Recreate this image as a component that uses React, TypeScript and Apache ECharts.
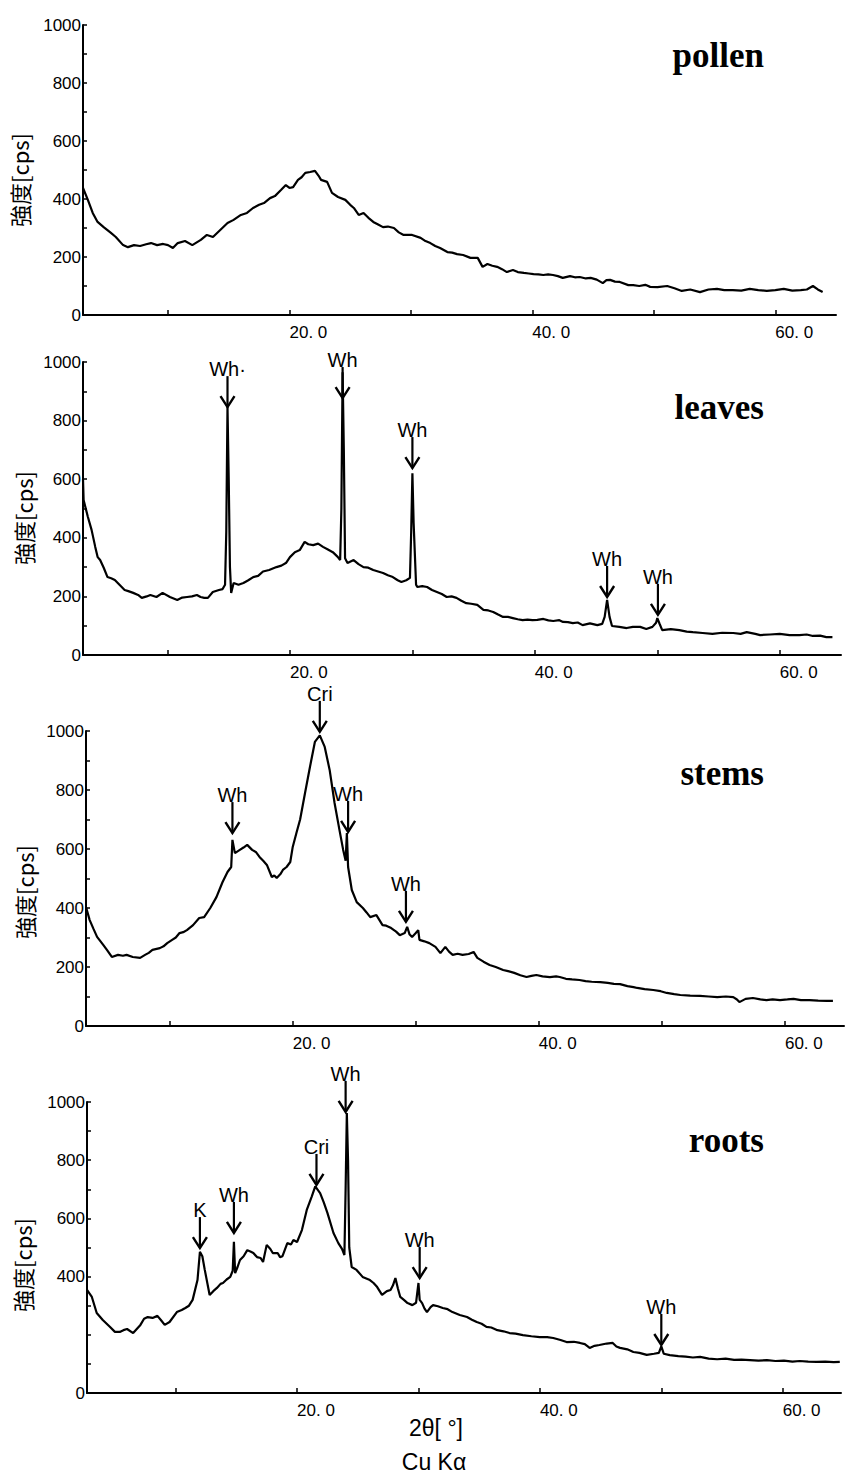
import React, { useEffect, useRef } from 'react';
import * as echarts from 'echarts';

// 2θ [deg], intensity [cps]
const pollen: [number, number][] = [
  [3.0,438],[3.4,397],[3.8,352],[4.2,321],[4.7,303],[5.3,283],[5.7,269],[6.3,241],[6.7,234],[7.2,241],[7.7,238],[8.2,244],[8.6,248],[9.1,241],[9.6,245],[10.0,241],[10.4,231],[10.8,248],[11.4,255],[12.0,241],[12.7,259],[13.2,276],[13.7,269],[14.3,293],[14.9,317],[15.4,328],[16.0,345],[16.5,352],[17.0,369],[17.5,380],[17.9,386],[18.4,403],[18.8,410],[19.3,431],[19.7,448],[20.0,438],[20.3,441],[20.7,466],[21.0,475],[21.3,490],[21.7,493],[22.1,497],[22.4,480],[22.6,466],[23.1,459],[23.5,421],[24.0,407],[24.6,397],[25.0,380],[25.3,369],[25.7,345],[26.1,352],[26.5,335],[26.9,321],[27.3,312],[27.7,303],[28.1,305],[28.6,300],[29.0,285],[29.4,276],[30.1,276],[30.8,266],[31.2,255],[31.6,248],[32.0,238],[32.4,231],[33.0,217],[33.4,215],[33.8,210],[34.3,207],[34.9,197],[35.5,197],[35.9,166],[36.3,176],[36.7,170],[37.1,166],[37.5,158],[37.9,148],[38.4,155],[38.8,148],[39.3,145],[39.7,143],[40.1,141],[40.5,140],[40.9,138],[41.3,140],[41.7,138],[42.1,134],[42.5,128],[43.1,134],[43.5,130],[43.9,131],[44.4,126],[44.8,128],[45.3,122],[45.8,110],[46.1,120],[46.4,121],[46.8,115],[47.2,114],[47.9,103],[48.3,103],[48.8,100],[49.3,104],[49.7,97],[50.3,96],[51.1,100],[51.7,92],[52.3,83],[53.0,88],[53.8,79],[54.5,88],[55.2,90],[55.8,86],[56.5,86],[57.2,84],[57.9,90],[58.6,86],[59.3,83],[60.0,86],[60.7,90],[61.4,84],[62.1,86],[62.6,88],[63.1,100],[63.5,88],[63.9,79]
];

const leaves: [number, number][] = [
  [3.1,600],[3.15,529],[3.5,471],[3.8,427],[4.1,369],[4.3,334],[4.5,324],[4.8,297],[5.1,266],[5.4,262],[5.7,256],[6.1,239],[6.5,222],[6.8,218],[7.2,212],[7.6,205],[7.9,195],[8.3,200],[8.6,205],[9.1,198],[9.6,212],[10.2,198],[10.8,188],[11.2,196],[11.6,198],[12.0,200],[12.4,205],[12.7,198],[13.0,195],[13.3,195],[13.7,215],[14.2,222],[14.5,225],[14.7,240],[14.8,420],[14.9,846],[15.0,600],[15.1,300],[15.2,212],[15.4,246],[15.8,240],[16.2,246],[16.6,255],[17.0,266],[17.4,270],[17.8,285],[18.3,290],[18.9,300],[19.3,305],[19.7,315],[20.0,334],[20.4,351],[20.8,358],[21.2,386],[21.5,378],[21.9,375],[22.3,380],[22.7,369],[23.1,360],[23.5,351],[23.9,335],[24.1,324],[24.2,500],[24.3,965],[24.4,700],[24.5,330],[24.7,314],[25.2,324],[25.6,310],[26.0,300],[26.4,298],[26.8,290],[27.2,285],[27.6,280],[28.0,272],[28.4,266],[28.8,255],[29.1,249],[29.5,255],[29.8,263],[29.9,420],[30.0,620],[30.1,450],[30.3,240],[30.4,232],[30.8,235],[31.2,232],[31.6,222],[32.0,215],[32.4,208],[32.8,198],[33.2,200],[33.6,195],[34.0,185],[34.4,177],[34.8,175],[35.3,171],[35.8,154],[36.2,152],[36.6,147],[37.0,138],[37.4,130],[37.8,130],[38.2,126],[38.6,122],[39.0,119],[39.4,121],[39.8,119],[40.2,120],[40.7,123],[41.1,118],[41.5,116],[42.0,119],[42.3,113],[42.7,112],[43.1,109],[43.5,111],[43.9,102],[44.5,108],[45.1,102],[45.5,106],[45.7,130],[45.9,188],[46.1,130],[46.3,99],[46.9,96],[47.5,92],[48.0,96],[48.6,96],[49.1,89],[49.6,96],[49.9,110],[50.0,126],[50.2,105],[50.4,85],[51.1,88],[51.8,85],[52.4,80],[52.9,78],[53.7,75],[54.5,72],[55.3,76],[56.2,75],[56.8,72],[57.3,78],[58.0,72],[58.4,68],[59.2,70],[60.0,72],[60.8,68],[61.6,68],[62.2,70],[62.7,65],[63.3,66],[63.8,61],[64.3,61]
];

const stems: [number, number][] = [
  [3.2,403],[3.5,359],[3.8,330],[4.1,302],[4.6,275],[4.9,258],[5.3,234],[5.8,241],[6.2,238],[6.5,241],[7.0,234],[7.6,231],[8.0,241],[8.3,248],[8.6,258],[9.2,264],[9.5,270],[9.8,281],[10.2,292],[10.5,300],[10.8,315],[11.1,318],[11.4,325],[11.9,342],[12.4,366],[12.8,369],[13.3,400],[13.8,437],[14.3,488],[14.7,522],[15.0,539],[15.1,631],[15.3,586],[15.7,597],[16.0,605],[16.3,614],[16.7,597],[17.0,590],[17.3,573],[17.6,560],[17.9,546],[18.3,505],[18.5,510],[18.7,502],[19.0,515],[19.2,529],[19.5,539],[19.8,556],[20.0,607],[20.3,654],[20.6,700],[21.0,790],[21.4,878],[21.8,963],[22.2,985],[22.6,946],[23.0,868],[23.4,756],[23.8,664],[24.1,597],[24.3,560],[24.4,654],[24.5,539],[24.8,461],[25.2,420],[25.7,400],[26.0,385],[26.3,369],[26.8,376],[27.3,342],[27.6,340],[28.0,332],[28.4,320],[28.7,308],[29.1,315],[29.3,336],[29.5,310],[29.7,302],[30.0,315],[30.2,325],[30.3,292],[30.7,287],[31.1,281],[31.6,268],[32.0,247],[32.4,268],[32.7,252],[33.0,241],[33.4,245],[33.8,241],[34.3,244],[34.7,251],[35.0,231],[35.5,218],[36.0,207],[36.5,200],[37.1,190],[37.5,186],[38.0,180],[38.5,172],[39.0,166],[39.4,170],[39.8,173],[40.3,168],[40.9,166],[41.4,168],[41.7,166],[42.2,160],[42.7,158],[43.3,156],[43.8,152],[44.3,150],[45.0,149],[45.6,146],[46.1,143],[46.6,142],[47.2,135],[47.7,132],[48.0,129],[48.6,125],[49.3,122],[49.9,118],[50.4,112],[51.0,108],[51.5,105],[52.3,103],[53.1,102],[53.8,100],[54.5,98],[55.2,100],[55.8,98],[56.1,90],[56.3,81],[56.8,92],[57.4,95],[58.0,90],[58.5,88],[59.0,90],[59.6,88],[60.2,90],[60.7,92],[61.3,88],[62.0,88],[62.7,86],[63.4,85],[63.9,85]
];

const roots: [number, number][] = [
  [2.7,354],[3.1,330],[3.5,275],[4.0,251],[4.6,227],[5.0,210],[5.4,210],[5.7,216],[6.0,220],[6.5,206],[6.8,220],[7.1,234],[7.4,255],[7.7,261],[8.1,258],[8.5,265],[8.8,250],[9.1,234],[9.5,244],[10.1,278],[10.5,285],[10.8,292],[11.1,300],[11.4,320],[11.8,388],[12.0,485],[12.2,470],[12.4,423],[12.8,337],[13.1,350],[13.4,361],[13.7,375],[13.9,378],[14.2,390],[14.5,399],[14.7,420],[14.8,520],[14.9,412],[15.1,433],[15.3,457],[15.6,470],[15.9,491],[16.2,485],[16.4,481],[16.7,467],[17.0,464],[17.2,450],[17.5,509],[17.8,495],[18.0,481],[18.4,481],[18.6,467],[18.8,470],[19.2,515],[19.5,510],[19.7,526],[20.0,519],[20.4,560],[20.8,629],[21.2,674],[21.5,710],[21.9,687],[22.2,655],[22.5,619],[23.0,550],[23.4,515],[23.7,495],[23.9,474],[24.0,700],[24.1,962],[24.2,800],[24.3,500],[24.5,433],[24.9,423],[25.4,399],[26.0,388],[26.3,378],[26.6,364],[27.0,337],[27.4,350],[27.7,354],[27.9,370],[28.1,395],[28.3,360],[28.5,330],[28.8,320],[29.1,309],[29.5,302],[29.8,310],[30.0,378],[30.1,320],[30.3,309],[30.5,290],[30.7,278],[31.0,295],[31.2,302],[31.6,298],[32.0,292],[32.4,288],[32.8,278],[33.4,268],[34.0,261],[34.4,252],[34.8,244],[35.2,238],[35.6,227],[36.0,225],[36.5,216],[37.0,212],[37.5,206],[38.0,204],[38.6,199],[39.3,195],[40.0,192],[40.6,192],[41.1,189],[41.7,182],[42.2,175],[42.8,176],[43.3,172],[43.7,168],[44.1,155],[44.5,162],[44.9,165],[45.5,170],[46.0,172],[46.3,160],[46.6,155],[47.2,150],[47.7,141],[48.2,138],[48.8,131],[49.4,135],[49.8,138],[50.0,160],[50.2,135],[50.7,130],[51.4,127],[52.0,125],[52.6,122],[53.2,124],[53.9,118],[54.6,116],[55.3,118],[56.0,114],[56.6,115],[57.3,113],[58.0,111],[58.7,113],[59.4,110],[60.1,111],[60.8,108],[61.4,110],[62.1,108],[62.8,107],[63.5,108],[64.2,106],[64.7,107]
];

// peak annotations: [2θ, arrow tip cps, label]
const leavesPeaks: [number, number, string][] = [
  [14.9, 846, 'Wh·'], [24.3, 877, 'Wh'], [30.0, 638, 'Wh'], [45.9, 198, 'Wh'], [50.05, 137, 'Wh'],
];
const stemsPeaks: [number, number, string][] = [
  [15.1, 654, 'Wh'], [22.2, 997, 'Cri'], [24.5, 658, 'Wh'], [29.2, 353, 'Wh'],
];
const rootsPeaks: [number, number, string][] = [
  [12.0, 498, 'K'], [14.8, 550, 'Wh'], [21.6, 715, 'Cri'], [24.0, 966, 'Wh'], [30.1, 395, 'Wh'], [50.0, 165, 'Wh'],
];

const xTickValues = [10, 20, 30, 40, 50, 60];
const xLabelValues = [20, 40, 60];
const yLabelsAll = [0, 200, 400, 600, 800, 1000];
const yLabelsRoots = [0, 400, 600, 800, 1000];

const yName = '強度[cps]';

const panels = [
  { name: 'pollen', data: pollen, peaks: [] as [number, number, string][], yLabels: yLabelsAll,
    grid: { left: 83, right: 10, top: 25, height: 290 }, xMin: 3.0, xMax: 65.0, titleY: 55, nameX: 19, nameY: 180 },
  { name: 'leaves', data: leaves, peaks: leavesPeaks, yLabels: yLabelsAll,
    grid: { left: 83, right: 5, top: 362, height: 293 }, xMin: 3.1, xMax: 65.0, titleY: 407, nameX: 23, nameY: 518 },
  { name: 'stems', data: stems, peaks: stemsPeaks, yLabels: yLabelsAll,
    grid: { left: 86, right: 2, top: 731, height: 295 }, xMin: 3.2, xMax: 64.8, titleY: 773, nameX: 24, nameY: 892 },
  { name: 'roots', data: roots, peaks: rootsPeaks, yLabels: yLabelsRoots,
    grid: { left: 87, right: 5, top: 1102, height: 291 }, xMin: 2.7, xMax: 64.8, titleY: 1140, nameX: 22, nameY: 1265 },
];

const SANS = '"Liberation Sans", Arial, sans-serif';

export default function App() {
  const ref = useRef<HTMLDivElement>(null);
  useEffect(() => {
    if (!ref.current) return;
    const chart = echarts.init(ref.current, undefined, { renderer: 'svg' });

    const series: any[] = [];
    panels.forEach((p, i) => {
      series.push({
        type: 'line', xAxisIndex: i, yAxisIndex: i, data: p.data,
        symbol: 'none', showSymbol: false, lineStyle: { color: '#000', width: 2.2 }, z: 3,
      });
      if (p.peaks.length) {
        const peaks = p.peaks;
        series.push({
          type: 'custom', xAxisIndex: i, yAxisIndex: i, clip: false, z: 4,
          data: peaks.map((a) => [a[0], a[1]]),
          renderItem: (params: any, api: any) => {
            const pt = api.coord([api.value(0), api.value(1)]);
            const x = pt[0], y = pt[1];
            const L = 31;
            return {
              type: 'group',
              children: [
                { type: 'line', shape: { x1: x, y1: y - L, x2: x, y2: y }, style: { stroke: '#000', lineWidth: 2.2 } },
                { type: 'polyline', shape: { points: [[x - 7, y - 11], [x, y], [x + 7, y - 11]] }, style: { stroke: '#000', lineWidth: 2.4, fill: null } },
                { type: 'text', x: x, y: y - L + 3, style: { text: peaks[params.dataIndex][2], align: 'center', verticalAlign: 'bottom', fontSize: 20, fontFamily: SANS, fill: '#000' } },
              ],
            };
          },
        });
      }
    });

    const graphic: any[] = [];
    panels.forEach((p) => {
      graphic.push({
        type: 'text', x: 764, y: p.titleY,
        style: { text: p.name, align: 'right', verticalAlign: 'middle', fontSize: 35, fontWeight: 'bold', fontFamily: '"Liberation Serif", "Times New Roman", serif', fill: '#000' },
      });
      graphic.push({
        type: 'text', x: p.nameX, y: p.nameY, rotation: Math.PI / 2,
        style: { text: yName, align: 'center', verticalAlign: 'middle', fontSize: 22, fontFamily: '"Noto Sans CJK JP", sans-serif', fill: '#000' },
      });
    });
    graphic.push({
      type: 'text', x: 436, y: 1428,
      style: { text: '2θ[ °]', align: 'center', verticalAlign: 'middle', fontSize: 23, fontFamily: SANS, fill: '#000' },
    });
    graphic.push({
      type: 'text', x: 434, y: 1462,
      style: { text: 'Cu Kα', align: 'center', verticalAlign: 'middle', fontSize: 23, fontFamily: SANS, fill: '#000' },
    });

    chart.setOption({
      animation: false,
      backgroundColor: '#fff',
      grid: panels.map((p) => ({ ...p.grid, containLabel: false })),
      xAxis: panels.map((p, i) => ({
        type: 'value', gridIndex: i, min: p.xMin, max: p.xMax,
        axisLine: { show: true, onZero: false, lineStyle: { color: '#000', width: 2 } },
        axisTick: { show: true, inside: true, length: 5, customValues: xTickValues, lineStyle: { color: '#000', width: 1.5 } },
        axisLabel: {
          customValues: xLabelValues, formatter: (v: number) => `${v}. 0`, align: 'left', margin: 9,
          fontSize: 17, color: '#000', fontFamily: SANS,
        },
        splitLine: { show: false },
      })),
      yAxis: panels.map((p, i) => ({
        type: 'value', gridIndex: i, min: 0, max: 1000, interval: 100,
        axisLine: { show: true, lineStyle: { color: '#000', width: 2 } },
        axisTick: { show: true, inside: true, length: 4, lineStyle: { color: '#000', width: 1.5 } },
        axisLabel: {
          formatter: (v: number) => (p.yLabels.includes(v) ? String(v) : ''), margin: 2,
          fontSize: 17, color: '#000', fontFamily: SANS, padding: [0, 0, 10, 0],
        },
        splitLine: { show: false },
      })),
      series,
      graphic,
    });
    return () => chart.dispose();
  }, []);
  return <div ref={ref} style={{ position: 'fixed', left: 0, top: 0, width: 846, height: 1477, background: '#fff' }} />;
}
